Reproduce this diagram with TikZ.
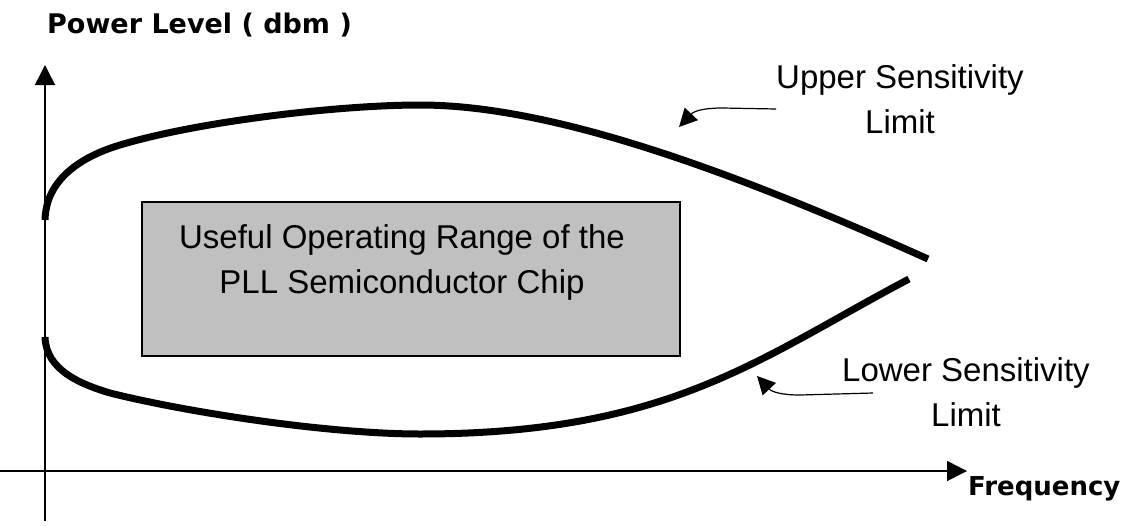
\documentclass[tikz,border=0pt]{standalone}
\usepackage{fontspec}
\setmainfont{Liberation Sans}
\newfontfamily\labelfont{DejaVu Sans}
\usetikzlibrary{arrows.meta}
\definecolor{boxgray}{RGB}{192,192,192}

\begin{document}
\begin{tikzpicture}[x=1pt, y=-1pt, >={Triangle[length=20pt,width=20pt]}, every node/.style={inner sep=0pt}, txt/.style={font=\fontsize{33}{45}\selectfont,align=center}, axlabel/.style={font=\labelfont\bfseries\fontsize{26}{30}\selectfont}, limit/.style={line width=7pt}, pointer/.style={line width=1.2pt,-{Triangle[length=18pt,width=18pt]}}]
\useasboundingbox (0,0) rectangle (1124,525);
% axes
\coordinate (ybot) at (45,521);
\coordinate (ytop) at (45,65);
\coordinate (xleft) at (0,471);
\coordinate (xright) at (967,471);
\draw[line width=1.5pt,->] (ybot) -- (ytop);
\draw[line width=1.5pt,->] (xleft) -- (xright);
\node[axlabel,font=\labelfont\bfseries\fontsize{27}{30}\selectfont,anchor=base west] (power) at (47,33) {Power Level ( dbm )};
\node[axlabel,anchor=base west] (freq) at (968,495) {Frequency};
% operating range
\node[draw,line width=1.5pt,fill=boxgray,minimum width=538pt,minimum height=154pt] (range) at (411,279) {};
\node[txt] (rangetxt) at (402,262) {Useful Operating Range of the\\PLL Semiconductor Chip};
% sensitivity limits
\draw[limit] (45,220) .. controls (46,180) and (80,157) .. (120,145)
  .. controls (200,121) and (340,105) .. (420,105)
  .. controls (550,105) and (728,169) .. (928,259);
\draw[limit] (45,337) .. controls (46,370) and (80,384) .. (110,393)
  .. controls (190,413) and (330,434) .. (420,434)
  .. controls (670,434) and (759,358) .. (909,279);
\node[txt] (upper) at (900,99) {Upper Sensitivity\\Limit};
\node[txt] (lower) at (966,392) {Lower Sensitivity\\Limit};
\coordinate (utail) at (776,109);
\coordinate (utip) at (679,127);
\coordinate (ltail) at (873,393);
\coordinate (ltip) at (757,376);
\draw[pointer] (utail) -- (722,108) .. controls (708,108) and (695,110) .. (utip);
\draw[pointer] (ltail) -- (800,395) .. controls (782,395) and (772,392) .. (ltip);
\end{tikzpicture}
\end{document}
